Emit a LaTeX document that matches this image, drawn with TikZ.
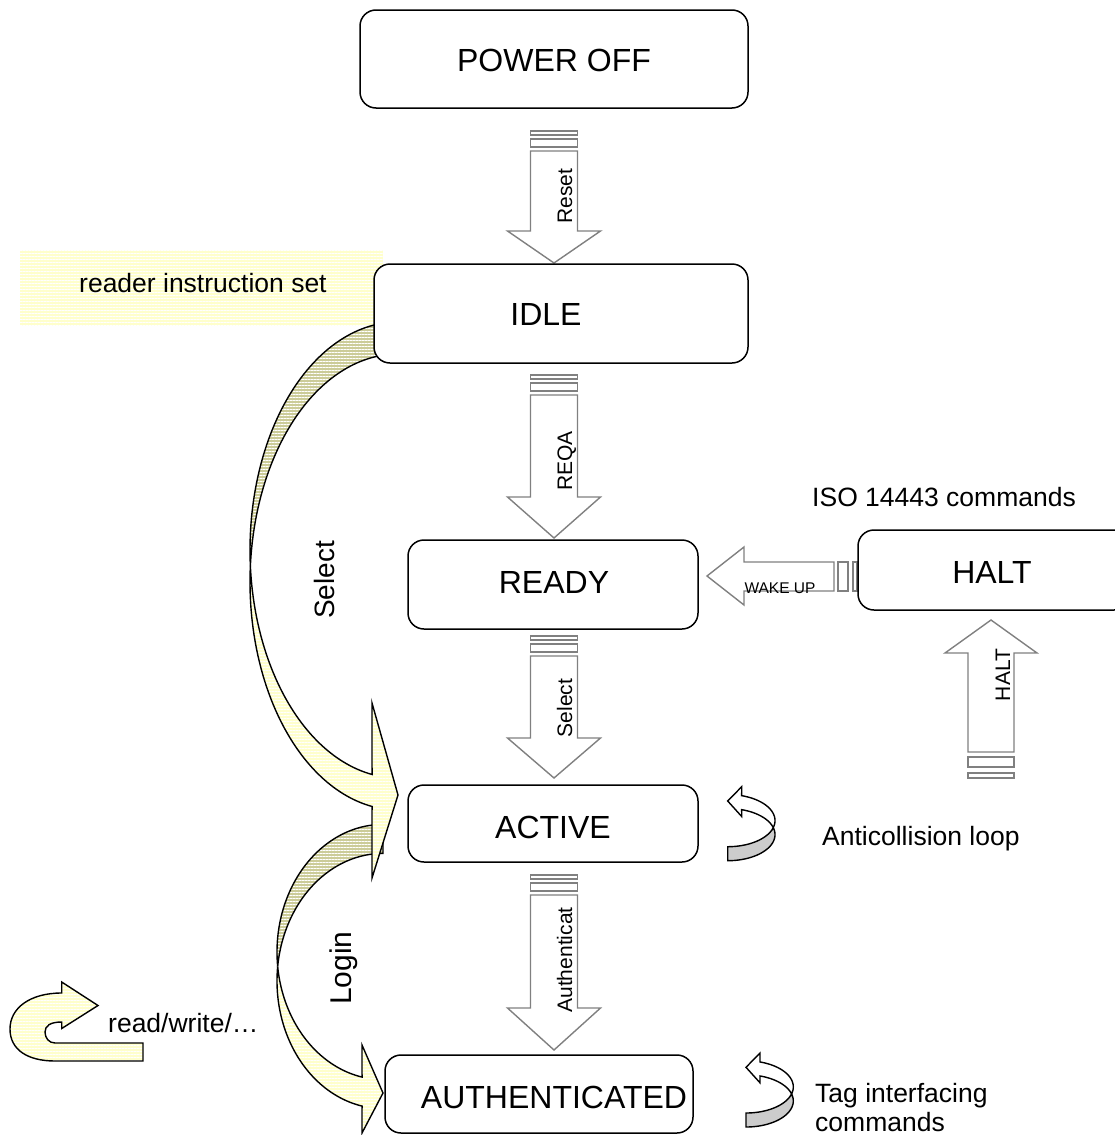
\documentclass[tikz,border=0pt]{standalone}
\usepackage{fontspec}
\setmainfont{Liberation Sans}
\usetikzlibrary{patterns.meta}
\definecolor{lightyel}{RGB}{255,255,204}
\definecolor{bandolive}{RGB}{204,204,153}
\definecolor{arrowgray}{RGB}{128,128,128}
\definecolor{curlgray}{RGB}{204,204,204}
\tikzset{
  statebox/.style={draw, line width=1.5pt, rounded corners=16pt, fill=white, inner sep=0pt},
  blockarrow/.style={draw=arrowgray, line width=1.4pt, fill=white},
  stripes/.style={pattern={Lines[angle=0,distance=3pt,line width=0.9pt]}, pattern color=white},
  lightband/.style={preaction={fill=lightyel}, stripes, draw=black, line width=1.4pt},
  darkband/.style={preaction={fill=bandolive}, stripes, draw=black, line width=1.4pt},
  curlfront/.style={fill=white, draw=black, line width=1.4pt},
  curlback/.style={fill=curlgray, draw=black, line width=1.4pt},
  bigtxt/.style={font=\fontsize{32}{38}\selectfont, inner sep=0pt},
  midtxt/.style={font=\fontsize{26.5}{30}\selectfont, inner sep=0pt},
  smalltxt/.style={font=\fontsize{21}{25}\selectfont, inner sep=0pt},
}
\newcommand{\mycurl}{%
  \path[curlback] plot[domain=-90:15.6,samples=50] ({727.7+47.3*cos(\x)},{834.6-26.1*sin(\x)})
     -- plot[domain=15.6:90,samples=50] ({727.7+47.3*cos(-\x)},{820.6-26.1*sin(-\x)}) -- cycle;
  \path[curlfront] plot[domain=-15.6:72.8,samples=50] ({727.7+47.3*cos(\x)},{820.6-26.1*sin(\x)})
     -- (741.7,786.7) -- (727.7,801) -- (741.7,816.5)
     -- plot[domain=-72.8:-15.6,samples=50] ({727.7+47.3*cos(-\x)},{834.6-26.1*sin(-\x)}) -- cycle;
}
\begin{document}
\begin{tikzpicture}[x=1pt,y=-1pt]
\useasboundingbox (0,0) rectangle (1115,1135);
\clip (0,0) rectangle (1115,1135);

% reader instruction set background
\path[preaction={fill=lightyel}, stripes] (20,250) rectangle (383,326);
\node[midtxt, anchor=base west] (rinstr) at (79,292) {reader instruction set};

% Login curved arrow
\path[darkband] plot[domain=90:186.5,samples=60] ({383+106*cos(\x)},{952-127.6*sin(\x)})
   -- plot[domain=-173.5:-90,samples=60] ({383+106*cos(-\x)},{981-127.6*sin(-\x)}) -- cycle;
\path[lightband] plot[domain=173.5:258.6,samples=60] ({383+106*cos(\x)},{981-127.6*sin(\x)})
   -- (362,1133) -- (383,1093) -- (362,1045)
   -- plot[domain=-258.6:-186.5,samples=60] ({383+106*cos(-\x)},{952-127.6*sin(-\x)}) -- cycle;

% Select curved arrow
\path[darkband] plot[domain=95:184,samples=60] ({398+148*cos(\x)},{550-228*sin(\x)})
   -- plot[domain=-176:-95,samples=60] ({398+148*cos(-\x)},{582-228*sin(-\x)}) -- cycle;
\path[lightband] plot[domain=176:259.9,samples=60] ({398+148*cos(\x)},{582-228*sin(\x)})
   -- (372,878) -- (398,795) -- (372,703)
   -- plot[domain=-259.9:-184,samples=60] ({398+148*cos(-\x)},{550-228*sin(-\x)}) -- cycle;

% striped block arrows
% Reset
\path[blockarrow] (530.5,131) rectangle (577.5,135);
\path[blockarrow] (530.5,139) rectangle (577.5,147);
\path[blockarrow] (530.5,151) -- (577.5,151) -- (577.5,231) -- (600.5,231) -- (554,263) -- (507.5,231) -- (530.5,231) -- cycle;
% REQA
\path[blockarrow] (530.5,375) rectangle (577.5,379);
\path[blockarrow] (530.5,383) rectangle (577.5,391);
\path[blockarrow] (530.5,395) -- (577.5,395) -- (577.5,497) -- (600.5,497) -- (554,538) -- (507.5,497) -- (530.5,497) -- cycle;
% Select
\path[blockarrow] (530.5,636) rectangle (577.5,640);
\path[blockarrow] (530.5,644) rectangle (577.5,652);
\path[blockarrow] (530.5,656) -- (577.5,656) -- (577.5,738) -- (600.5,738) -- (554,778) -- (507.5,738) -- (530.5,738) -- cycle;
% Authenticat
\path[blockarrow] (530.5,875) rectangle (577.5,879);
\path[blockarrow] (530.5,883) rectangle (577.5,891);
\path[blockarrow] (530.5,895) -- (577.5,895) -- (577.5,1008) -- (600.5,1008) -- (554,1050) -- (507.5,1008) -- (530.5,1008) -- cycle;
% WAKE UP
\path[blockarrow] (853,562) rectangle (857,591);
\path[blockarrow] (838,562) rectangle (848,591);
\path[blockarrow] (834,562) -- (834,591) -- (744,591) -- (744,605) -- (707,576) -- (744,547) -- (744,562) -- cycle;
% HALT
\path[blockarrow] (968,773) rectangle (1014,778);
\path[blockarrow] (968,757) rectangle (1014,767);
\path[blockarrow] (968,752) -- (1014,752) -- (1014,653) -- (1037,653) -- (991,620) -- (945,653) -- (968,653) -- cycle;

% state boxes
\node[statebox, minimum width=388pt, minimum height=98pt] (poweroff) at (554,59) {};
\node[statebox, minimum width=374pt, minimum height=99pt] (idle) at (561,313.5) {};
\node[statebox, minimum width=290pt, minimum height=89pt] (ready) at (553,584.5) {};
\node[statebox, minimum width=272pt, minimum height=80pt] (halt) at (994,570) {};
\node[statebox, minimum width=290pt, minimum height=77pt] (active) at (553,823.5) {};
\node[statebox, minimum width=308pt, minimum height=78pt] (auth) at (539,1094) {};

\node[bigtxt, anchor=base] (tpoweroff) at (554,71.5) {POWER OFF};
\node[bigtxt, anchor=base] (tidle) at (546,325.5) {IDLE};
\node[bigtxt, anchor=base] (tready) at (554,593.5) {READY};
\node[bigtxt, anchor=base] (thalt) at (992,583.5) {HALT};
\node[bigtxt, anchor=base] (tactive) at (553,838.5) {ACTIVE};
\node[bigtxt, anchor=base] (tauth) at (554,1108.5) {AUTHENTICATED};

% arrow labels
\node[smalltxt, rotate=90, anchor=base] (lreset) at (572,196) {Reset};
\node[smalltxt, rotate=90, anchor=base] (lreqa) at (572,461) {REQA};
\node[smalltxt, rotate=90, anchor=base] (lselect) at (572,708) {Select};
\node[smalltxt, rotate=90, anchor=base] (lauth) at (572,960) {Authenticat};
\node[smalltxt, rotate=90, anchor=base] (lhalt) at (1010,675) {HALT};
\node[font=\fontsize{15.5}{18}\selectfont, inner sep=0pt, anchor=base] (lwake) at (780,593) {WAKE UP};
\node[font=\fontsize{28}{32}\selectfont, inner sep=0pt, rotate=90, anchor=base] (lbigselect) at (334,580) {Select};
\node[font=\fontsize{30}{34}\selectfont, inner sep=0pt, rotate=90, anchor=base] (llogin) at (351,968) {Login};

% side labels
\node[midtxt, anchor=base west] (iso) at (812,506) {ISO 14443 commands};
\node[midtxt, anchor=base west] (anti) at (822,845) {Anticollision loop};
\node[midtxt, anchor=base west] (tag1) at (815,1102) {Tag interfacing};
\node[midtxt, anchor=base west] (tag2) at (815,1131) {commands};
\node[midtxt, anchor=base west] (rw) at (108,1032) {read/write/…};

% curls
\mycurl
\begin{scope}[shift={(18.3,266.3)}]
\mycurl
\end{scope}
\path[lightband] (61.7,993) .. controls (30,993) and (10,1008) .. (10,1029)
   .. controls (10,1050) and (28,1061) .. (55,1061) -- (143,1061) -- (143,1043) -- (55,1043)
   .. controls (49,1043) and (45,1038) .. (45,1032) .. controls (45,1026) and (50,1022) .. (61.7,1022)
   -- (61.7,1028.5) -- (98,1005.5) -- (61.7,982) -- cycle;
\end{tikzpicture}
\end{document}
